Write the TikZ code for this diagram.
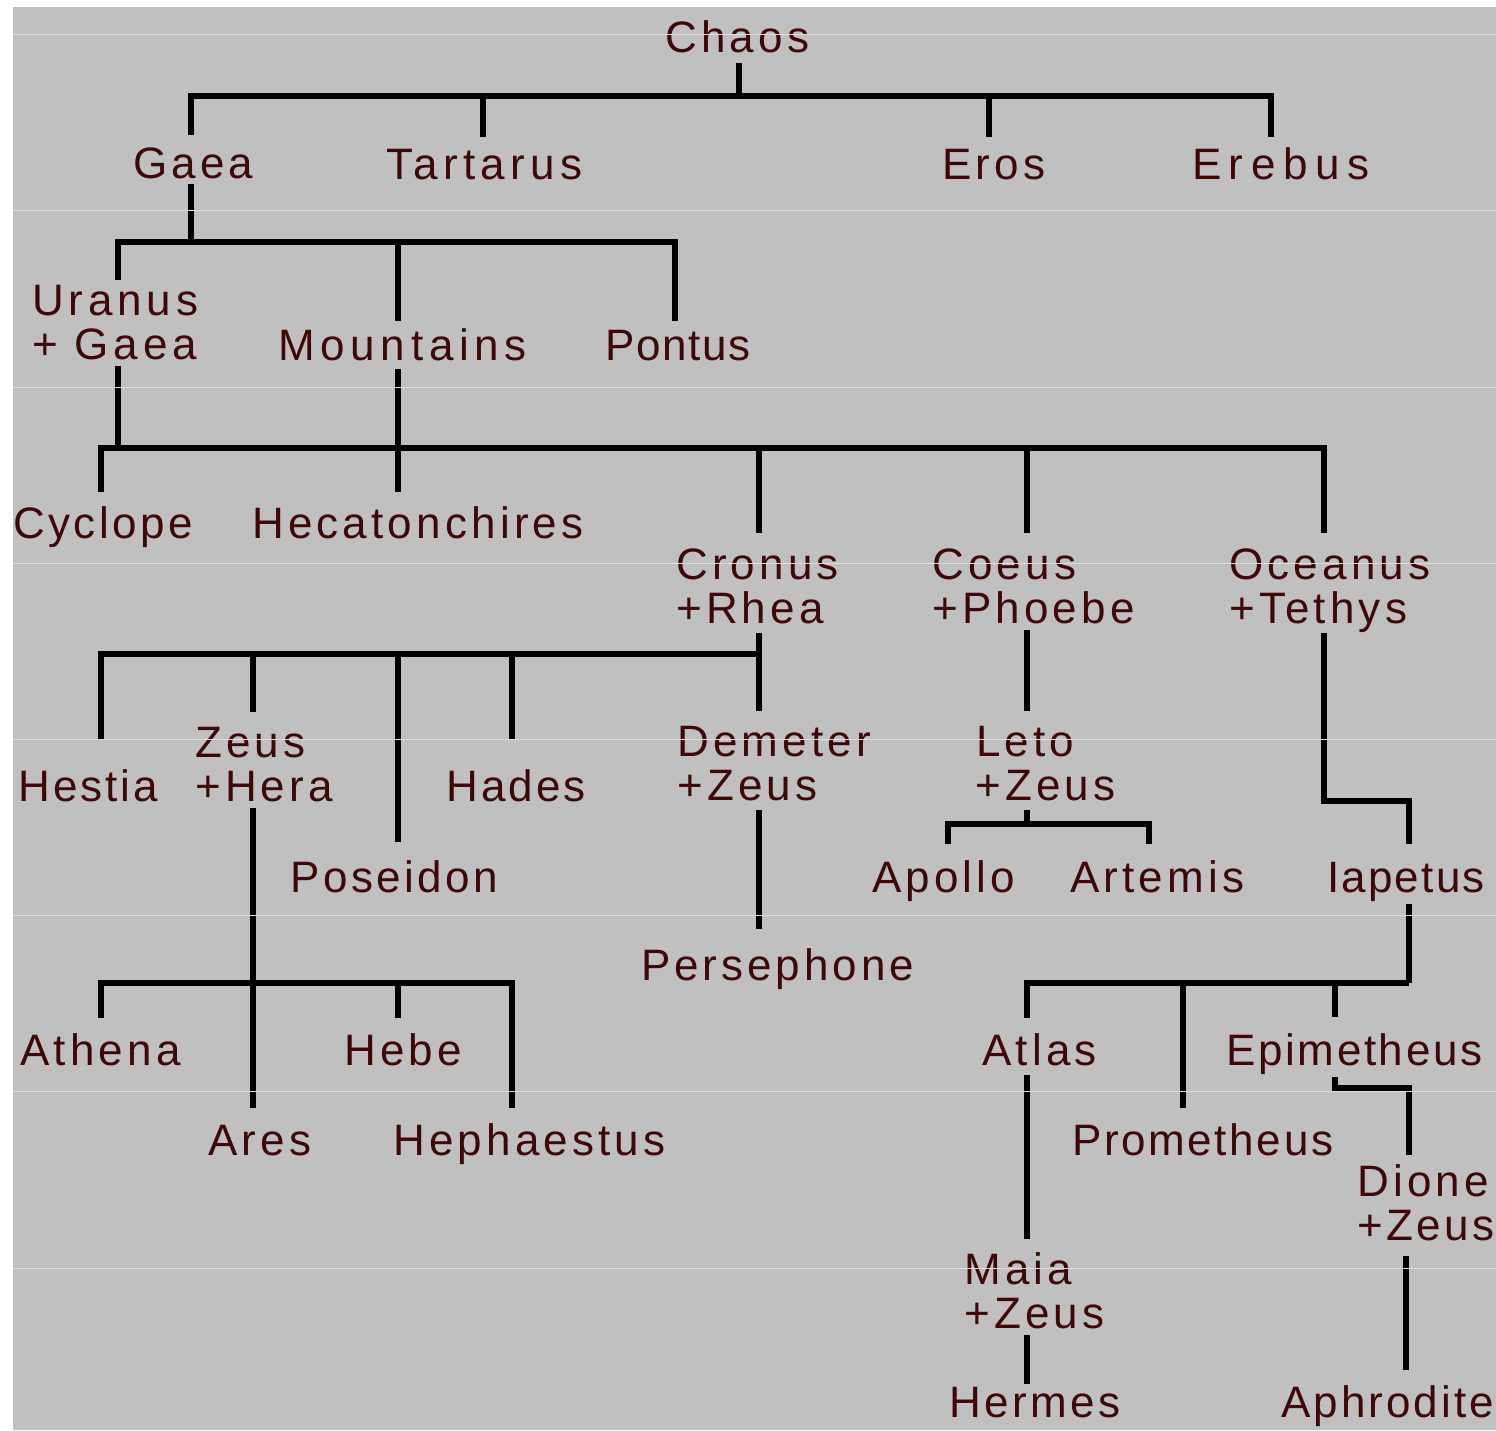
\documentclass[tikz,border=0pt]{standalone}
\usepackage{fontspec}
\newfontfamily\labfont{Liberation Sans}[LetterSpace=9.5]
\definecolor{bg}{HTML}{C0C0C0}
\definecolor{txt}{HTML}{3F0808}
\definecolor{seam}{HTML}{DCDCDC}
\newcommand\twol[2]{\vbox{\baselineskip=43.5pt\lineskiplimit=-100pt\hbox{#1}\hbox{#2}}}
\newcommand\lsp[2]{{\addfontfeature{LetterSpace=#1}#2}}
\tikzset{
  lab/.style={font={\labfont\fontsize{44}{43.5}\selectfont}, text=txt, inner sep=0pt,
    anchor=base west, text height=33pt, text depth=0pt},
  lab2/.style={lab, text height=76.5pt},
  conn/.style={draw=black, line width=5.8pt, line join=miter}
}
\begin{document}
\begin{tikzpicture}[x=1pt,y=-1pt]
\useasboundingbox (0,0) rectangle (1496,1430);
\fill[white] (0,0) rectangle (1496,1430);
\fill[bg] (13,7) rectangle (1496,1430);

% ---- nodes ----
\node[lab] (Chaos) at (665,52) {Chaos};
\node[lab] (Gaea) at (133,178) {Gaea};
\node[lab] (Tartarus) at (386,179) {\lsp{12}{Tartarus}};
\node[lab] (Eros) at (942,179) {Eros};
\node[lab] (Erebus) at (1192,179) {\lsp{17}{Erebus}};
\node[lab2] (Uranus) at (32,359) {\twol{\lsp{11}{Uranus}}{\lsp{11}{+ Gaea}}};
\node[lab] (Mountains) at (278,360) {\lsp{13}{Mountains}};
\node[lab] (Pontus) at (605,360) {\lsp{4}{Pontus}};
\node[lab] (Cyclope) at (13,538) {\lsp{8}{Cyclope}};
\node[lab] (Hecatonchires) at (252,538) {Hecatonchires};
\node[lab2] (Cronus) at (676,623) {\twol{Cronus}{+Rhea}};
\node[lab2] (Coeus) at (932,623) {\twol{Coeus}{+Phoebe}};
\node[lab2] (Oceanus) at (1229,623) {\twol{Oceanus}{+Tethys}};
\node[lab] (Hestia) at (18,801) {\lsp{7}{Hestia}};
\node[lab2] (Zeus) at (195,801) {\twol{Zeus}{+Hera}};
\node[lab] (Poseidon) at (290,892) {\lsp{8}{Poseidon}};
\node[lab] (Hades) at (446,801) {\lsp{7}{Hades}};
\node[lab2] (Demeter) at (677,800) {\twol{Demeter}{+Zeus}};
\node[lab2] (Leto) at (975,800) {\twol{\hspace{1pt}Leto}{+Zeus}};
\node[lab] (Apollo) at (872,892) {Apollo};
\node[lab] (Artemis) at (1070,892) {Artemis};
\node[lab] (Iapetus) at (1327,892) {\lsp{5}{Iapetus}};
\node[lab] (Persephone) at (641,980) {\lsp{9}{Persephone}};
\node[lab] (Athena) at (20,1065) {Athena};
\node[lab] (Hebe) at (344,1065) {Hebe};
\node[lab] (Ares) at (208,1155) {Ares};
\node[lab] (Hephaestus) at (393,1155) {Hephaestus};
\node[lab] (Atlas) at (982,1065) {Atlas};
\node[lab] (Epimetheus) at (1226,1065) {\lsp{6}{Epimetheus}};
\node[lab] (Prometheus) at (1072,1155) {\lsp{6}{Prometheus}};
\node[lab2] (Dione) at (1357,1240) {\twol{Dione}{\lsp{8}{+Zeus}}};
\node[lab2] (Maia) at (964,1328) {\twol{Maia}{+Zeus}};
\node[lab] (Hermes) at (949,1417) {\lsp{8}{Hermes}};
\node[lab] (Aphrodite) at (1281,1417) {\lsp{7}{Aphrodite}};

% ---- columns and junctions ----
\foreach \c in {101,118,191,253,398,483,512,675,739,759,948,989,1027,1149,1183,1271,1324,1335,1406,1409}
  \coordinate (X\c) at (\c,0);
\coordinate (j0) at (739,96);
\coordinate (j1) at (191,242);
\coordinate (j2) at (118,448);
\coordinate (j3) at (759,654);
\coordinate (j4) at (253,983);
\coordinate (j5) at (1027,824);
\coordinate (j6) at (1409,983);
\coordinate (k1) at (1409,801);
\coordinate (k2) at (1409,1088);

% ---- connectors ----
% Chaos
\draw[conn, shorten <=11pt] (Chaos.south -| j0) -- (j0);
\draw[conn, shorten <=10pt, shorten >=9pt] (Gaea.north -| X191) |- (j0) -| (Erebus.north -| X1271);
\draw[conn, shorten >=9pt] (j0 -| X483) -- (Tartarus.north -| X483);
\draw[conn, shorten >=9pt] (j0 -| X989) -- (Eros.north -| X989);
% Gaea
\draw[conn, shorten <=6pt] (Gaea.south -| j1) -- (j1);
\draw[conn, shorten <=2pt, shorten >=6pt] (Uranus.north -| X118) |- (j1) -| (Pontus.north -| X675);
\draw[conn, shorten >=6pt] (j1 -| X398) -- (Mountains.north -| X398);
% Uranus + Gaea
\draw[conn, shorten <=7pt] (Uranus.south -| j2) -- (j2);
\draw[conn, shorten <=13pt, shorten >=13pt] (Cyclope.north -| X101) |- (j2) -| (Oceanus.north -| X1324);
\draw[conn, shorten <=9pt, shorten >=13pt] (Mountains.south -| X398) -- (Hecatonchires.north -| X398);
\draw[conn, shorten >=13pt] (j2 -| X759) -- (Cronus.north -| X759);
\draw[conn, shorten >=13pt] (j2 -| X1027) -- (Coeus.north -| X1027);
% Cronus + Rhea
\draw[conn, shorten <=10pt, shorten >=12pt] (Cronus.south -| X759) -- (Demeter.north -| X759);
\draw[conn, shorten <=28pt] (Hestia.north -| X101) |- (j3);
\draw[conn, shorten >=12pt] (j3 -| X253) -- (Zeus.north -| X253);
\draw[conn, shorten >=17pt] (j3 -| X398) -- (Poseidon.north -| X398);
\draw[conn, shorten >=28pt] (j3 -| X512) -- (Hades.north -| X512);
% Coeus + Phoebe
\draw[conn, shorten <=7pt, shorten >=12pt] (Coeus.south -| X1027) -- (Leto.north -| X1027);
% Oceanus + Tethys
\draw[conn, shorten <=10pt, shorten >=15pt] (Oceanus.south -| X1324) |- (k1) -- (Iapetus.north -| k1);
% Zeus + Hera
\draw[conn, shorten <=7pt, shorten >=14pt] (Zeus.south -| X253) -- (Ares.north -| X253);
\draw[conn, shorten <=14pt, shorten >=14pt] (Athena.north -| X101) |- (j4) -| (Hephaestus.north -| X512);
\draw[conn, shorten >=14pt] (j4 -| X398) -- (Hebe.north -| X398);
% Demeter + Zeus
\draw[conn, shorten <=10pt, shorten >=18pt] (Demeter.south -| X759) -- (Persephone.north -| X759);
% Leto + Zeus
\draw[conn, shorten <=10pt] (Leto.south -| j5) -- (j5);
\draw[conn, shorten <=15pt, shorten >=15pt] (Apollo.north -| X948) |- (j5) -| (Artemis.north -| X1149);
% Iapetus
\draw[conn, shorten <=12pt] (Iapetus.south -| j6) -- (j6);
\draw[conn, shorten <=14pt] (Atlas.north -| X1027) |- (j6);
\draw[conn, shorten >=14pt] (j6 -| X1183) -- (Prometheus.north -| X1183);
\draw[conn, shorten >=15pt] (j6 -| X1335) -- (Epimetheus.north -| X1335);
% Atlas
\draw[conn, shorten <=10pt, shorten >=12pt] (Atlas.south -| X1027) -- (Maia.north -| X1027);
% Epimetheus
\draw[conn, shorten <=12pt, shorten >=8pt] (Epimetheus.south -| X1335) |- (k2) -- (Dione.north -| k2);
% Dione + Zeus
\draw[conn, shorten <=16pt, shorten >=14pt] (Dione.south -| X1406) -- (Aphrodite.north -| X1406);
% Maia + Zeus
\draw[conn, shorten <=7pt] (Maia.south -| X1027) -- (Hermes.north -| X1027);

% ---- faint horizontal seams ----
\foreach \y in {34,210,387,563,739,915,1091,1268}
  \draw[seam, line width=1pt] (13,\y) -- (1496,\y);
\end{tikzpicture}
\end{document}
